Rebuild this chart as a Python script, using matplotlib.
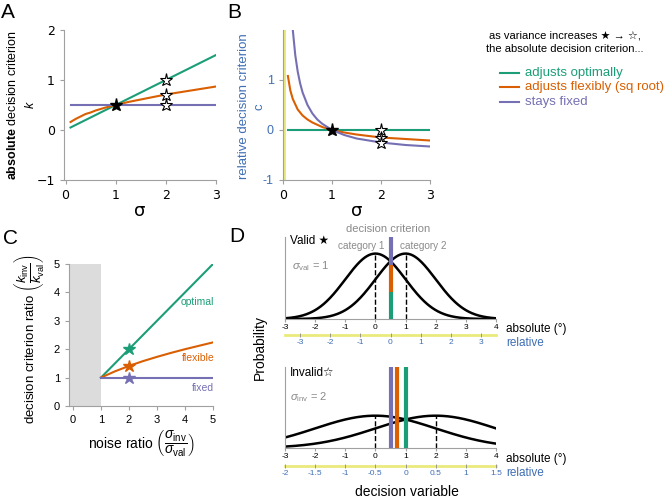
import numpy as np
import matplotlib.pyplot as plt
from matplotlib.lines import Line2D
from matplotlib.transforms import blended_transform_factory

plt.rcParams['font.family'] = ['Liberation Sans', 'DejaVu Sans']
plt.rcParams['mathtext.fontset'] = 'custom'
plt.rcParams['mathtext.rm'] = 'Liberation Sans'
plt.rcParams['mathtext.it'] = 'Liberation Sans:italic'
plt.rcParams['mathtext.bf'] = 'Liberation Sans:bold'

GREEN = '#1b9e77'
ORANGE = '#d95f02'
PURPLE = '#7570b3'
BLUE = '#3f6fb4'
GRAY = '#8a8a8a'
SPINE = '#a0a0a0'
YELLOW = '#eaea7c'

# ---- data ----
# A: absolute criterion k vs sigma
sigma_a = [0.1, 0.15, 0.2, 0.3, 0.4, 0.5, 0.6, 0.8, 1.0, 1.25, 1.5, 1.75, 2.0, 2.5, 3.0]
k_optimal = [0.05, 0.075, 0.1, 0.15, 0.2, 0.25, 0.3, 0.4, 0.5, 0.625, 0.75, 0.875, 1.0, 1.25, 1.5]
k_flexible = [0.16, 0.19, 0.22, 0.27, 0.32, 0.35, 0.39, 0.45, 0.5, 0.56, 0.61, 0.66, 0.71, 0.79, 0.87]
k_fixed = [0.5] * 15
star_a_valid = (1.0, 0.5)
stars_a_invalid = [1.0, 0.71, 0.5]

# B: relative criterion c vs sigma
sigma_b = [0.1, 0.15, 0.2, 0.3, 0.4, 0.5, 0.6, 0.8, 1.0, 1.25, 1.5, 1.75, 2.0, 2.5, 3.0]
c_optimal = [0.0] * 15
c_flexible = [1.08, 0.79, 0.62, 0.41, 0.29, 0.21, 0.15, 0.06, 0.0, -0.05, -0.09, -0.12, -0.15, -0.18, -0.21]
sigma_b_fixed = [0.2, 0.25, 0.3, 0.35, 0.4, 0.5, 0.6, 0.7, 0.8, 1.0, 1.25, 1.5, 1.75, 2.0, 2.5, 3.0]
c_fixed = [2.0, 1.5, 1.17, 0.93, 0.75, 0.5, 0.33, 0.21, 0.125, 0.0, -0.1, -0.17, -0.21, -0.25, -0.3, -0.33]
stars_b_invalid = [0.0, -0.15, -0.25]

# C: criterion ratio vs noise ratio
noise_ratio = [1, 1.5, 2, 2.5, 3, 3.5, 4, 4.5, 5]
ratio_optimal = [1, 1.5, 2, 2.5, 3, 3.5, 4, 4.5, 5]
ratio_flexible = [1, 1.22, 1.41, 1.58, 1.73, 1.87, 2.0, 2.12, 2.24]
ratio_fixed = [1] * 9
stars_c = [2.0, 1.41, 1.0]

# D: category distributions (mean, sd) and criteria
valid_means = [0, 1]
valid_sd = 1
invalid_means = [0, 2]
invalid_sd = 2
valid_bar_x = 0.5
valid_bar_edges = [0, 0.163, 0.33, 0.5]
invalid_bar_x = [1.0, 0.707, 0.5]
abs_ticks = [-3, -2, -1, 0, 1, 2, 3, 4]
rel_pos_valid = [-2.5, -1.5, -0.5, 0.5, 1.5, 2.5, 3.5]
rel_lab_valid = ['-3', '-2', '-1', '0', '1', '2', '3']
rel_pos_invalid = [-3, -2, -1, 0, 1, 2, 3, 4]
rel_lab_invalid = ['-2', '-1.5', '-1', '-0.5', '0', '0.5', '1', '1.5']

W, H = 666, 500


def box(l, t, r, b):
    return [l / W, 1 - b / H, (r - l) / W, (b - t) / H]


def fx(x):
    return x / W


def fy(y):
    return 1 - y / H


def clean(ax):
    ax.spines['top'].set_visible(False)
    ax.spines['right'].set_visible(False)
    ax.spines['left'].set_color(SPINE)
    ax.spines['bottom'].set_color(SPINE)
    ax.tick_params(color=SPINE)


fig = plt.figure(figsize=(6.66, 5.0), dpi=100)
cols = [GREEN, ORANGE, PURPLE]

# ---- A ----
ax = fig.add_axes(box(64, 30, 216, 180))
clean(ax)
for y, c in zip([k_optimal, k_flexible, k_fixed], cols):
    ax.plot(sigma_a, y, color=c, lw=1.5)
ax.plot(*star_a_valid, marker='*', color='k', ms=9.5, zorder=5)
for y in stars_a_invalid:
    ax.plot(2, y, marker='*', mfc='white', mec='k', mew=0.8, ms=9.5, zorder=5)
ax.set_xlim(-0.03, 3)
ax.set_ylim(-1, 2)
ax.set_xticks([0, 1, 2, 3])
ax.set_yticks([-1, 0, 1, 2])
ax.tick_params(labelsize=9, length=3)
for lab in ax.get_xticklabels() + ax.get_yticklabels():
    lab.set_fontfamily('DejaVu Sans')
ax.set_xlabel('σ', fontsize=13, family='DejaVu Sans', labelpad=0)
ax.set_ylabel('$\\mathbf{absolute}$ decision criterion\n$k$', fontsize=9, linespacing=1.5)
ax.yaxis.set_label_coords(-0.18, 0.5)

# ---- B ----
ax = fig.add_axes(box(283, 30, 430, 180))
clean(ax)
ax.axvline(0.03, color=YELLOW, lw=2.2, zorder=1)
ax.plot(sigma_b, c_optimal, color=GREEN, lw=1.5)
ax.plot(sigma_b, c_flexible, color=ORANGE, lw=1.5)
ax.plot(sigma_b_fixed, c_fixed, color=PURPLE, lw=1.5)
ax.plot(1, 0, marker='*', color='k', ms=9.5, zorder=5)
for y in stars_b_invalid:
    ax.plot(2, y, marker='*', mfc='white', mec='k', mew=0.8, ms=9.5, zorder=5)
ax.set_xlim(0, 3)
ax.set_ylim(-1, 2)
ax.set_xticks([0, 1, 2, 3])
ax.set_yticks([-1, 0, 1])
ax.set_yticklabels(['-1', '0', '1'], color=BLUE)
ax.tick_params(labelsize=9, length=3)
for lab in ax.get_xticklabels():
    lab.set_fontfamily('DejaVu Sans')
ax.set_xlabel('σ', fontsize=13, family='DejaVu Sans', labelpad=0)
ax.set_ylabel('relative decision criterion\nc', fontsize=9.5, color=BLUE, linespacing=1.35)
ax.yaxis.set_label_coords(-0.12, 0.49)

# ---- C ----
ax = fig.add_axes(box(69, 264, 213, 406))
clean(ax)
ax.axvspan(-0.14, 1, color='#dcdcdc', lw=0, zorder=0)
for y, c in zip([ratio_optimal, ratio_flexible, ratio_fixed], cols):
    ax.plot(noise_ratio, y, color=c, lw=1.5)
for y, c in zip(stars_c, cols):
    ax.plot(2, y, marker='*', color=c, ms=9, zorder=5)
ax.text(5.05, 3.65, 'optimal', color=GREEN, fontsize=7.5, ha='right', va='center')
ax.text(5.05, 1.7, 'flexible', color=ORANGE, fontsize=7.5, ha='right', va='center')
ax.text(5.05, 0.65, 'fixed', color=PURPLE, fontsize=7.5, ha='right', va='center')
ax.set_xlim(-0.14, 5)
ax.set_ylim(0, 5)
ax.set_xticks(range(6))
ax.set_yticks(range(6))
ax.tick_params(labelsize=8, length=3)
ax.set_xlabel(r'noise ratio $\left(\dfrac{\sigma_{\mathrm{inv}}}{\sigma_{\mathrm{val}}}\right)$', fontsize=10, labelpad=2)
ax.set_ylabel(r'decision criterion ratio $\left(\dfrac{k_{\mathrm{inv}}}{k_{\mathrm{val}}}\right)$', fontsize=9.5)
ax.yaxis.set_label_coords(-0.16, 0.47)

# ---- D ----
xs = np.linspace(-3, 4, 300)


def gauss(m, s):
    return np.exp(-0.5 * ((xs - m) / s) ** 2) / (s * np.sqrt(2 * np.pi))


def d_axis(ax, rel_pos, rel_lab, yl, yt):
    clean(ax)
    ax.set_xlim(-3, 4)
    ax.set_ylim(0, 0.5)
    ax.set_yticks([])
    ax.set_xticks(abs_ticks)
    ax.set_xticklabels([str(t) for t in abs_ticks])
    ax.tick_params(axis='x', labelsize=6, length=2, pad=1.5)
    tr = blended_transform_factory(ax.transData, ax.transAxes)
    ax.plot([-3, 4], [yl, yl], color=YELLOW, lw=2, transform=tr, clip_on=False)
    ax.plot(rel_pos, [yl] * len(rel_pos), ls='none', marker='|', ms=3, color=GRAY,
            mew=0.6, transform=tr, clip_on=False)
    for p, l in zip(rel_pos, rel_lab):
        ax.text(p, yt, l, color=BLUE, fontsize=6, ha='center', va='center', transform=tr)


axv = fig.add_axes(box(285, 237, 496, 319))
d_axis(axv, rel_pos_valid, rel_lab_valid, -0.195, -0.29)
for m in valid_means:
    axv.plot(xs, gauss(m, valid_sd), color='k', lw=1.8)
    axv.plot([m, m], [0, 1 / (valid_sd * np.sqrt(2 * np.pi))], color='k', ls='--', lw=1)
for i, c in enumerate(cols):
    axv.plot([valid_bar_x, valid_bar_x], valid_bar_edges[i:i + 2], color=c, lw=3,
             solid_capstyle='butt', clip_on=False, zorder=4)

axi = fig.add_axes(box(285, 367, 496, 448))
d_axis(axi, rel_pos_invalid, rel_lab_invalid, -0.222, -0.31)
for m in invalid_means:
    axi.plot(xs, gauss(m, invalid_sd), color='k', lw=1.8)
    axi.plot([m, m], [0, 1 / (invalid_sd * np.sqrt(2 * np.pi))], color='k', ls='--', lw=1)
for x, c in zip(invalid_bar_x, cols):
    axi.plot([x, x], [0, 0.5], color=c, lw=3, solid_capstyle='butt', zorder=4)

fig.text(fx(388), fy(229), 'decision criterion', color=GRAY, fontsize=8, ha='center', va='center')
fig.text(fx(361), fy(246), 'category 1', color=GRAY, fontsize=7.2, ha='center', va='center')
fig.text(fx(423), fy(246), 'category 2', color=GRAY, fontsize=7.2, ha='center', va='center')
fig.text(fx(290), fy(241), 'Valid \u2605', fontsize=8.5, ha='left', va='center')
fig.text(fx(292), fy(266), r'$\sigma_{\mathrm{val}}$ = 1', color=GRAY, fontsize=8, ha='left', va='center')
fig.text(fx(290), fy(373), 'Invalid\u2606', fontsize=8.5, ha='left', va='center')
fig.text(fx(290), fy(397), r'$\sigma_{\mathrm{inv}}$ = 2', color=GRAY, fontsize=8, ha='left', va='center')
for yy in [329, 459]:
    fig.text(fx(506), fy(yy), 'absolute (°)', fontsize=8.5, ha='left', va='center')
for yy in [343, 473]:
    fig.text(fx(506), fy(yy), 'relative', fontsize=8.5, color=BLUE, ha='left', va='center')
fig.text(fx(260), fy(347), 'Probability', fontsize=10, rotation=90, ha='center', va='center')
fig.text(fx(407), fy(492), 'decision variable', fontsize=10, ha='center', va='center')

# ---- legend block ----
fig.text(fx(565), fy(36), 'as variance increases \u2605 \u2192 \u2606,', fontsize=8, ha='center', va='center')
fig.text(fx(565), fy(49), 'the absolute decision criterion...', fontsize=8, ha='center', va='center')
leg_labels = ['adjusts optimally', 'adjusts flexibly (sq root)', 'stays fixed']
for yy, c, lab in zip([73, 87, 102], cols, leg_labels):
    fig.add_artist(Line2D([fx(500), fx(519)], [fy(yy), fy(yy)], color=c, lw=1.5))
    fig.text(fx(525), fy(yy), lab, color=c, fontsize=9.5, ha='left', va='center')

# ---- panel letters ----
for lab, x, y in [('A', 1, 12), ('B', 227, 12), ('C', 3, 238), ('D', 229, 237)]:
    fig.text(fx(x), fy(y), lab, fontsize=15, ha='left', va='center')

fig.savefig('out.png', dpi=100)
